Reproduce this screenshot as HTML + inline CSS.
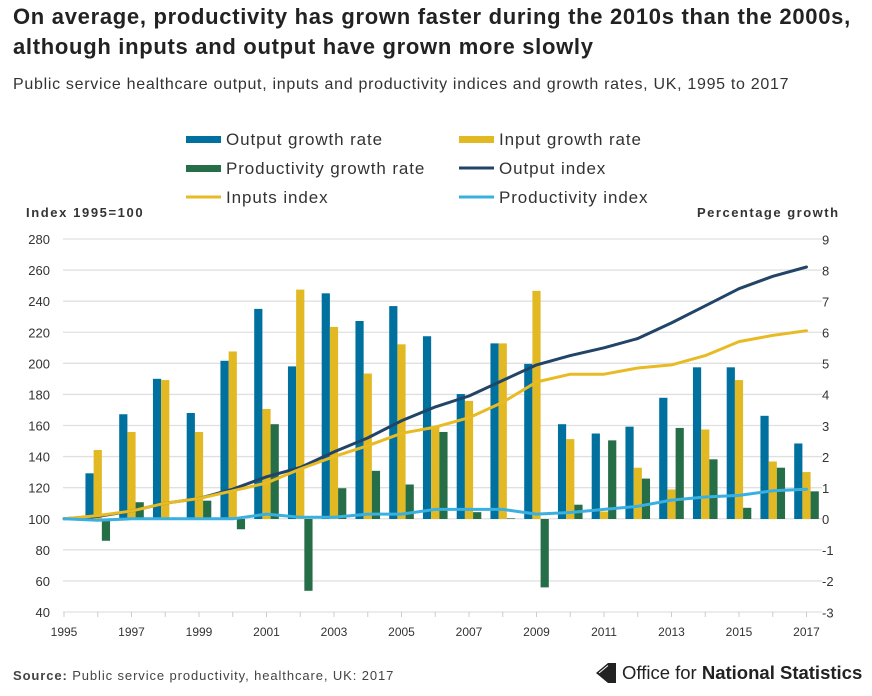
<!DOCTYPE html>
<html><head><meta charset="utf-8"><style>
body{margin:0;background:#fff;font-family:"Liberation Sans",sans-serif;width:872px;height:696px;overflow:hidden;position:relative}
#title{position:absolute;left:13px;top:2px;font-size:22px;letter-spacing:0.7px;font-weight:bold;color:#222;line-height:30px;margin:0;white-space:nowrap}
#sub{position:absolute;left:13px;top:76px;font-size:16px;letter-spacing:0.7px;color:#333;white-space:nowrap}
#src{position:absolute;left:13px;top:668px;font-size:13px;letter-spacing:0.9px;color:#444;white-space:nowrap}
#logo{position:absolute;left:594px;top:662px;font-size:18.5px;color:#222;display:flex;align-items:center;white-space:nowrap}
</style></head><body>
<h1 id="title">On average, productivity has grown faster during the 2010s than the 2000s,<br>although inputs and output have grown more slowly</h1>
<div id="sub">Public service healthcare output, inputs and productivity indices and growth rates, UK, 1995 to 2017</div>
<svg id="chart" width="872" height="696" style="position:absolute;left:0;top:0" font-family="Liberation Sans, sans-serif"></svg>
<div id="src"><b>Source:</b> Public service productivity, healthcare, UK: 2017</div>
<div id="logo"><svg width="22" height="22" viewBox="0 0 22 22"><path d="M2 11 L14 1 L22 1 L22 21 L14 21 Z" fill="#222"/><path d="M5 11 L14 3.5" stroke="#fff" stroke-width="1"/></svg><span style="margin-left:6px">Office for <b>National Statistics</b></span></div>
<script>
const years=[1995,1996,1997,1998,1999,2000,2001,2002,2003,2004,2005,2006,2007,2008,2009,2010,2011,2012,2013,2014,2015,2016,2017];
const outputGrowth=[0,1.47,3.37,4.51,3.41,5.09,6.76,4.91,7.26,6.37,6.85,5.88,4.02,5.65,4.99,3.05,2.75,2.97,3.9,4.88,4.88,3.32,2.43];
const inputGrowth=[0,2.22,2.8,4.47,2.8,5.39,3.54,7.38,6.18,4.68,5.62,2.97,3.8,5.65,7.34,2.57,0.24,1.65,0.95,2.88,4.47,1.85,1.51];
const prodGrowth=[0,-0.7,0.54,0.05,0.59,-0.33,3.05,-2.31,0.99,1.55,1.11,2.8,0.22,0.02,-2.2,0.46,2.53,1.3,2.93,1.92,0.36,1.65,0.89];
const outputIndex=[100,101.5,105,110,113,119,127,133,143,152,163,172,179,189,199,205,210,216,226,237,248,256,262];
const inputsIndex=[100,102,105,110,113,118,123,132,140,147,155,159,165,175,188,193,193,197,199,205,214,218,221];
const prodIndex=[100,99,100,100,100,100,103,101,101,103,103,106,106,106,103,104,106,108,112,114,115,118,119];
const leftTicks=[40,60,80,100,120,140,160,180,200,220,240,260,280];
const rightTicks=[-3,-2,-1,0,1,2,3,4,5,6,7,8,9];
const xLabels=[1995,1997,1999,2001,2003,2005,2007,2009,2011,2013,2015,2017];
const svg=document.getElementById('chart');const NS='http://www.w3.org/2000/svg';
const X=y=>64+(y-1995)*(806.5-64)/22;
const YL=v=>612-(v-40)*(612-239)/240;
const YR=v=>519-v*(612-239)/12;
function mk(t,a,txt){const e=document.createElementNS(NS,t);for(const k in a)e.setAttribute(k,a[k]);if(txt!==undefined)e.textContent=txt;svg.appendChild(e);return e;}
leftTicks.forEach(v=>{
 const l=mk('line',{x1:63,x2:822,y1:YL(v),y2:YL(v),stroke:'#e0e0e0','stroke-width':1.3});
 
 
 const t=mk('text',{x:50,y:YL(v)+5,'text-anchor':'end','font-size':13,fill:'#333'},v);
 
 
});
rightTicks.forEach(v=>{
 const t=mk('text',{x:822,y:YR(v)+5,'font-size':13,fill:'#333'},v);
 
 
});
years.forEach(y=>{const l=mk('line',{x1:X(y),x2:X(y),y1:612,y2:617,stroke:'#ccc'});
 
 });
xLabels.forEach(y=>{const t=mk('text',{x:X(y),y:636,'text-anchor':'middle','font-size':12,fill:'#333'},y);
 
 });
const bw=8.2;
function bars(arr,off,col,name){arr.forEach((v,i)=>{const x=X(years[i])+off;const y0=YR(0),y1=YR(v);
 const r=mk('rect',{x:x,y:Math.min(y0,y1),width:bw,height:Math.abs(y1-y0),fill:col});
 
 });}
bars(outputGrowth,-12.3,'#00719f','output-growth-bar');
bars(inputGrowth,-4.1,'#e2b823','input-growth-bar');
bars(prodGrowth,4.1,'#256e48','productivity-growth-bar');
function line(arr,col,name){const d=arr.map((v,i)=>(i?'L':'M')+X(years[i]).toFixed(1)+' '+YL(v).toFixed(1)).join(' ');
 const p=mk('path',{d:d,fill:'none',stroke:col,'stroke-width':3,'stroke-linejoin':'round','stroke-linecap':'round'});
 
 }
line(outputIndex,'#224466','output-index-line');
line(inputsIndex,'#e8bb24','inputs-index-line');
line(prodIndex,'#3ab0e0','productivity-index-line');
const t1=mk('text',{x:26,y:217,'font-size':13,'font-weight':'bold',fill:'#333','letter-spacing':1.6},'Index 1995=100');


const t2=mk('text',{x:697,y:217,'font-size':13,'font-weight':'bold',fill:'#333','letter-spacing':1.5},'Percentage growth');


const leg=[[186,139,'#00719f','bar','Output growth rate'],[459,139,'#e2b823','bar','Input growth rate'],[186,168,'#256e48','bar','Productivity growth rate'],[459,168,'#224466','line','Output index'],[186,197,'#e8bb24','line','Inputs index'],[459,197,'#3ab0e0','line','Productivity index']];
leg.forEach(l=>{
 const s=l[3]==='bar'?mk('rect',{x:l[0],y:l[1]-3,width:35,height:7,fill:l[2]}):mk('rect',{x:l[0],y:l[1]-1.5,width:35,height:3,fill:l[2]});
 
 
 const t=mk('text',{x:l[0]+40,y:l[1]+6,'font-size':17,fill:'#333','letter-spacing':0.9},l[4]);
 
 
});
</script>
</body></html>
